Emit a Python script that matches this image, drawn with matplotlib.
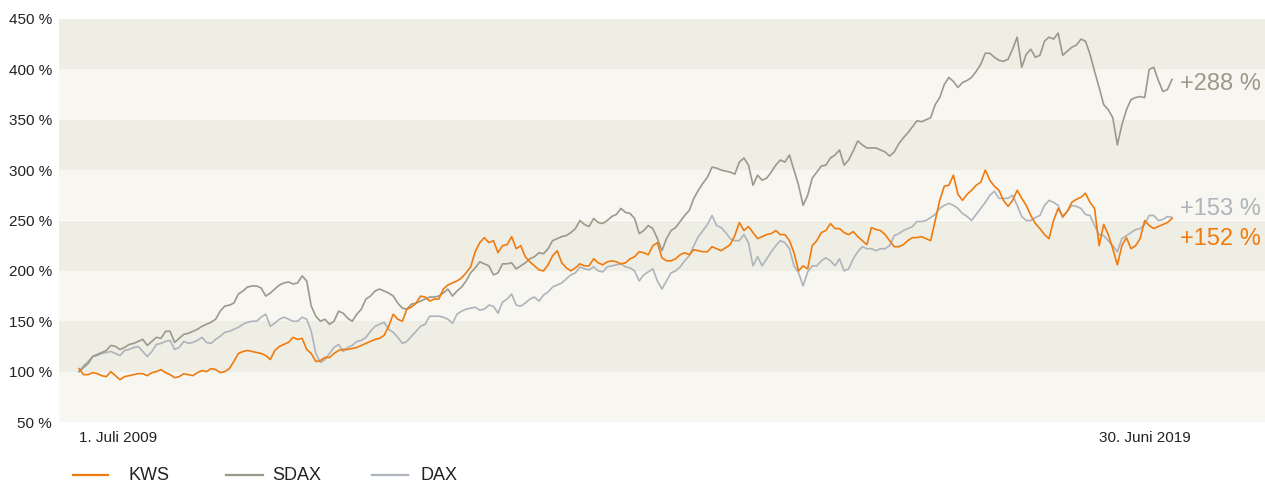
import matplotlib
matplotlib.use("Agg")
import matplotlib.pyplot as plt
from matplotlib.lines import Line2D
import numpy as np

plt.rcParams['font.family'] = ['Liberation Sans', 'DejaVu Sans']

# readings at the start of each month (index 0 = 1 July 2009 ... 120 = 30 June 2019)
kws_month = [103, 97, 98, 95, 96, 95, 97, 98, 99, 102,
             97, 95, 97, 99, 100, 102, 100, 110, 120, 120,
             118, 112, 125, 129, 132, 122, 110, 114, 118, 122,
             123, 126, 130, 133, 145, 152, 162, 168, 174, 172,
             182, 188, 193, 204, 228, 228, 218, 226, 222, 214,
             205, 200, 215, 208, 200, 207, 205, 208, 209, 209,
             208, 214, 218, 225, 213, 210, 216, 216, 220, 219,
             222, 223, 235, 240, 238, 234, 237, 236, 230, 200,
             202, 230, 240, 242, 238, 239, 230, 243, 240, 230,
             224, 230, 233, 232, 250, 284, 295, 270, 280, 288,
             290, 280, 264, 280, 265, 247, 236, 250, 254, 268,
             273, 268, 225, 236, 206, 233, 225, 250, 242, 246,
             252]
# readings in the middle of each month
kws_mid = [97, 99, 96, 100, 92, 96, 98, 96, 100, 99,
           94, 98, 96, 101, 103, 99, 103, 118, 121, 119,
           116, 121, 127, 134, 133, 118, 111, 114, 121, 122,
           124, 128, 132, 136, 157, 150, 164, 175, 170, 172,
           186, 190, 198, 219, 233, 230, 225, 234, 225, 209,
           201, 206, 220, 203, 203, 205, 212, 206, 210, 207,
           212, 219, 216, 228, 210, 212, 218, 221, 219, 224,
           220, 226, 248, 244, 232, 236, 240, 236, 218, 205,
           225, 238, 247, 242, 236, 234, 226, 241, 236, 224,
           226, 233, 234, 230, 270, 285, 276, 276, 285, 300,
           284, 270, 270, 272, 255, 242, 232, 262, 259, 271,
           277, 262, 246, 222, 225, 222, 232, 245, 244, 248]

sdax_month = [100, 108, 117, 121, 125, 124, 128, 132, 130, 133,
              140, 133, 138, 142, 147, 152, 165, 168, 180, 185,
              183, 178, 186, 189, 188, 190, 155, 152, 150, 158,
              150, 162, 175, 182, 178, 168, 162, 168, 172, 174,
              178, 175, 184, 198, 209, 205, 198, 207, 202, 208,
              214, 217, 230, 234, 238, 250, 244, 248, 250, 256,
              258, 252, 240, 242, 220, 240, 249, 260, 280, 293,
              302, 299, 296, 312, 285, 290, 298, 310, 315, 285,
              275, 298, 305, 315, 305, 319, 325, 322, 320, 314,
              326, 337, 349, 350, 365, 385, 388, 387, 392, 405,
              416, 409, 410, 432, 415, 412, 428, 430, 414, 422,
              430, 415, 382, 360, 325, 360, 372, 372, 402, 378,
              390]
sdax_mid = [104, 115, 119, 126, 122, 127, 130, 126, 134, 140,
            129, 137, 140, 145, 149, 160, 166, 177, 184, 185,
            175, 182, 188, 187, 195, 165, 150, 147, 160, 153,
            157, 172, 180, 180, 175, 163, 167, 170, 174, 175,
            182, 180, 190, 203, 207, 196, 207, 208, 205, 212,
            218, 222, 232, 235, 242, 246, 252, 247, 254, 262,
            257, 237, 245, 232, 232, 243, 255, 272, 287, 303,
            300, 298, 308, 305, 295, 292, 305, 308, 300, 265,
            292, 304, 312, 320, 310, 329, 322, 322, 318, 318,
            332, 343, 348, 352, 372, 392, 382, 389, 398, 416,
            412, 408, 420, 402, 420, 414, 432, 436, 418, 424,
            428, 398, 365, 352, 345, 370, 373, 400, 389, 380]

dax_month = [100, 110, 116, 119, 118, 121, 124, 120, 120, 128,
             131, 124, 128, 131, 129, 132, 139, 142, 147, 150,
             154, 145, 152, 152, 150, 152, 118, 112, 124, 120,
             126, 131, 140, 147, 142, 134, 130, 140, 147, 155,
             154, 148, 160, 163, 161, 166, 158, 172, 166, 168,
             174, 176, 184, 188, 196, 204, 201, 200, 204, 206,
             204, 200, 196, 202, 182, 198, 204, 215, 234, 246,
             245, 238, 230, 236, 205, 205, 219, 230, 222, 198,
             199, 205, 213, 205, 200, 212, 224, 222, 222, 225,
             237, 242, 249, 250, 256, 265, 265, 257, 250, 262,
             275, 272, 272, 265, 250, 253, 265, 268, 253, 265,
             262, 255, 236, 230, 219, 235, 241, 246, 255, 251,
             253]
dax_mid = [106, 115, 118, 120, 116, 122, 125, 115, 127, 130,
           122, 130, 129, 134, 128, 135, 140, 144, 149, 150,
           157, 148, 154, 150, 154, 140, 109, 118, 127, 124,
           130, 134, 145, 149, 139, 128, 135, 145, 155, 155,
           152, 157, 162, 164, 162, 165, 169, 177, 165, 172,
           170, 179, 186, 192, 198, 202, 204, 199, 205, 207,
           203, 190, 199, 190, 190, 200, 210, 225, 240, 255,
           243, 232, 230, 228, 214, 212, 225, 228, 205, 185,
           205, 210, 210, 212, 202, 219, 222, 220, 222, 235,
           240, 244, 249, 253, 262, 267, 262, 254, 256, 268,
           279, 272, 275, 254, 250, 255, 270, 265, 259, 264,
           256, 245, 235, 225, 232, 238, 242, 255, 250, 254]

y_ticks = [50, 100, 150, 200, 250, 300, 350, 400, 450]
end_labels = ["+288 %", "+153 %", "+152 %"]
date_labels = ["1. Juli 2009", "30. Juni 2019"]
series_names = ["KWS", "SDAX", "DAX"]


def interleave(month_vals, mid_vals):
    out = []
    for i, v in enumerate(month_vals):
        out.append(v)
        if i < len(mid_vals):
            out.append(mid_vals[i])
    return np.array(out, dtype=float)


kws = interleave(kws_month, kws_mid)
sdax = interleave(sdax_month, sdax_mid)
dax = interleave(dax_month, dax_mid)
t = np.arange(len(kws)) / 2.0  # months since 1 July 2009

c_kws = "#ef7b0e"
c_sdax = "#9b9a8a"
c_dax = "#adb4bb"
band_dark = "#efeee4"
band_light = "#f7f6f1"

W, H = 1265, 484
fig = plt.figure(figsize=(W / 100, H / 100), dpi=100)
left_px, right_px, top_px, bot_px = 59, 1265, 19, 422
ax = fig.add_axes([left_px / W, 1 - bot_px / H, (right_px - left_px) / W, (bot_px - top_px) / H])

px_per_month = (1172 - 79) / 120
ax.set_xlim(-(79 - left_px) / px_per_month, 120 + (right_px - 1172) / px_per_month)
ax.set_ylim(50, 450)

for i, lo in enumerate(y_ticks[:-1]):
    col = band_light if i % 2 == 0 else band_dark
    ax.axhspan(lo, lo + 50, color=col, lw=0, zorder=0)

ax.plot(t, dax, color=c_dax, lw=1.2, zorder=2)
ax.plot(t, sdax, color=c_sdax, lw=1.2, zorder=3)
ax.plot(t, kws, color=c_kws, lw=1.2, zorder=4)

for s in ax.spines.values():
    s.set_visible(False)
ax.set_yticks(y_ticks)
ax.set_yticklabels([f"{v} %" for v in y_ticks], fontsize=11, color="#222222")
ax.tick_params(axis='y', length=0, pad=5)
ax.set_xticks([])

ax.text(0, -0.04, date_labels[0], transform=ax.get_xaxis_transform(),
        ha='left', va='center', fontsize=11, color="#222222")
ax.text(117.0, -0.04, date_labels[1], transform=ax.get_xaxis_transform(),
        ha='center', va='center', fontsize=11, color="#222222")

# end labels
lab_x = 120 + (1180 - 1172) / px_per_month
ax.text(lab_x, 385, end_labels[0], color=c_sdax, fontsize=17, ha='left', va='center')
ax.text(lab_x, 261, end_labels[1], color=c_dax, fontsize=17, ha='left', va='center')
ax.text(lab_x, 232, end_labels[2], color=c_kws, fontsize=17, ha='left', va='center')

# legend
leg_y = 1 - 475 / H
legend_items = [(73, 108, 128, c_kws), (226, 263, 272, c_sdax), (372, 408, 420, c_dax)]
for name, (x0, x1, tx, col) in zip(series_names, legend_items):
    fig.add_artist(Line2D([x0 / W, x1 / W], [leg_y, leg_y], color=col, lw=1.6,
                          transform=fig.transFigure))
    fig.text(tx / W, leg_y, name, ha='left', va='center', fontsize=13, color="#222222")

fig.savefig("out.png", dpi=100, facecolor="white")
